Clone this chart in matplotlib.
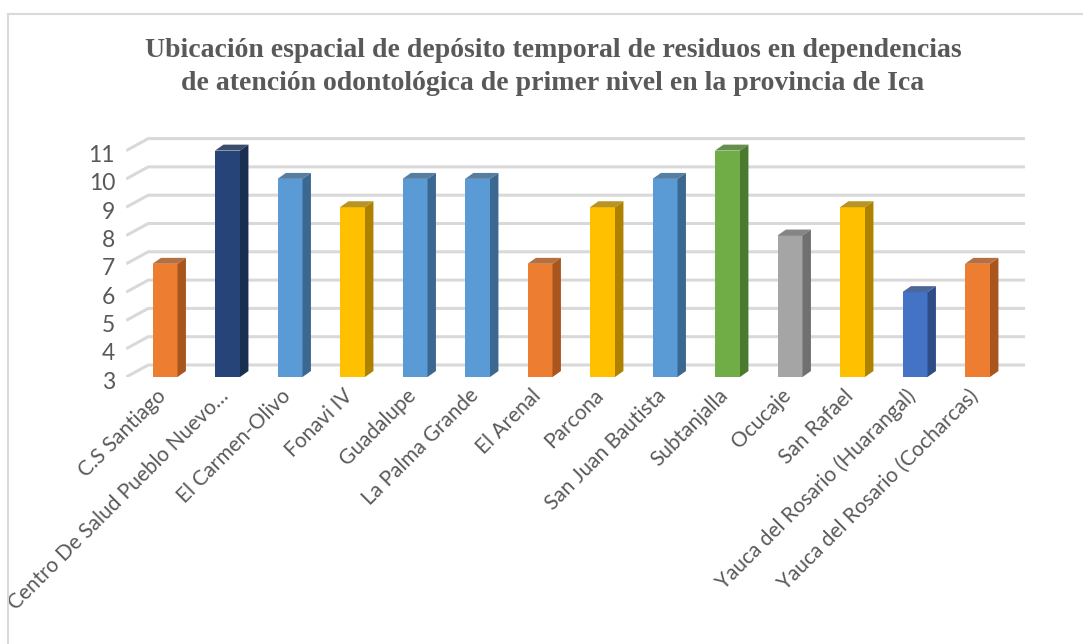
import numpy as np
import matplotlib
matplotlib.use("Agg")
import matplotlib.pyplot as plt
from matplotlib.patches import Polygon
from matplotlib.lines import Line2D

# data
categorias = ["C.S Santiago", "Centro De Salud Pueblo Nuevo…", "El Carmen-Olivo",
              "Fonavi IV", "Guadalupe", "La Palma Grande", "El Arenal", "Parcona",
              "San Juan Bautista", "Subtanjalla", "Ocucaje", "San Rafael",
              "Yauca del Rosario (Huarangal)", "Yauca del Rosario (Cocharcas)"]
valores = [7, 11, 10, 9, 10, 10, 7, 9, 10, 11, 8, 9, 6, 7]
y_ticks = [3, 4, 5, 6, 7, 8, 9, 10, 11]
titulo = ("Ubicación espacial de depósito temporal de residuos en dependencias\n"
          "de atención odontológica de primer nivel en la provincia de Ica")

# front / side colours
paleta = {
    "naranja": ("#ED7D31", "#A9561E"),
    "marino": ("#264478", "#1A2E52"),
    "celeste": ("#5B9BD5", "#3A6890"),
    "amarillo": ("#FFC000", "#AC8200"),
    "gris": ("#A5A5A5", "#707070"),
    "verde": ("#70AD47", "#4B7A2E"),
    "azul": ("#4472C4", "#2D4D87"),
}
colores = ["naranja", "marino", "celeste", "amarillo", "celeste", "celeste", "naranja",
           "amarillo", "celeste", "verde", "gris", "amarillo", "azul", "naranja"]

W, H = 1083, 644
fig = plt.figure(figsize=(W / 100, H / 100), dpi=100)

# axes placed in pixels
x0, x1 = 126.25, 1040.0
yb, yt = 377.0, 133.6
ax = fig.add_axes([x0 / W, 1 - yb / H, (x1 - x0) / W, (yb - yt) / H])
ax.set_xlim(-0.62, 14.0)
ax.set_ylim(3, 11.6)
ax.axis("off")

# depth offsets (data units)
gdx, gdy = 0.352, 0.424
bdx, bdy = 0.135, 0.21
xend = 13.76

grid_c = "#D9D9D9"
for v in y_ticks:
    ax.plot([-0.62, -0.62 + gdx, xend], [v, v + gdy, v + gdy], color=grid_c, lw=2.2,
            solid_capstyle="butt", zorder=1)
    ax.text(-0.8, v - 0.18, str(v), ha="right", va="center", fontsize=16.5,
            color="#595959", family="Lato")

w = 0.4
x = np.arange(len(valores))
for i, v in enumerate(valores):
    front, side = paleta[colores[i]]
    ax.bar(x[i], v - 3, width=w, bottom=3, color=front, zorder=3, linewidth=0)
    xl, xr = x[i] - w / 2, x[i] + w / 2
    ax.add_patch(Polygon([(xr, 3), (xr + bdx, 3 + bdy), (xr + bdx, v + bdy), (xr, v)],
                         closed=True, color=side, lw=0, zorder=3))
    ax.add_patch(Polygon([(xl, v), (xr, v), (xr + bdx, v + bdy), (xl + bdx, v + bdy)],
                         closed=True, color=side, lw=0, zorder=3, alpha=0.85))
    ax.text(x[i] - 0.04, 2.45, categorias[i], rotation=45, rotation_mode="anchor",
            ha="right", va="center", fontsize=15, color="#595959", family="Lato")

fig.text(553 / W, 1 - 67 / H, titulo, ha="center", va="center", fontsize=20,
         fontweight="bold", family="Liberation Serif", color="#595959",
         linespacing=1.4)

# outer frame (top and left visible)
fig.add_artist(Line2D([8 / W, 1], [1 - 14 / H, 1 - 14 / H], color="#D9D9D9", lw=1.5))
fig.add_artist(Line2D([8 / W, 8 / W], [0, 1 - 14 / H], color="#D9D9D9", lw=1.5))

fig.savefig("out.png", dpi=100)
